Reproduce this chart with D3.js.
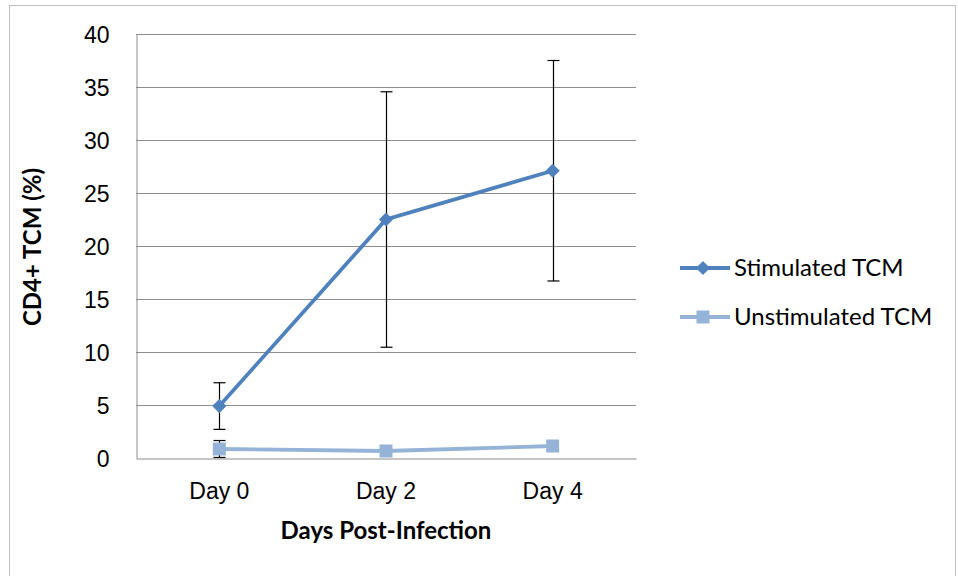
<!DOCTYPE html>
<html><head><meta charset="utf-8">
<script src="https://cdn.jsdelivr.net/npm/d3@7"></script>
<style>body{margin:0;background:#fff}svg{display:block;font-family:Lato,"Open Sans",sans-serif}</style>
</head><body><svg id="c" width="958" height="576"></svg>
<script>
const categories = ["Day 0", "Day 2", "Day 4"];
const stimulated = [4.9, 22.5, 27.1];
const stimulatedErr = [2.2, 12.05, 10.4];
const unstimulated = [0.85, 0.66, 1.13];
const unstimulatedErr = [0.8, 0, 0];
const yTicks = [0, 5, 10, 15, 20, 25, 30, 35, 40];
const seriesNames = ["Stimulated TCM", "Unstimulated TCM"];
const colors = ["#4F81BD", "#95B3D7"];

const svg = d3.select("#c");
svg.append("rect").attr("x", 9.5).attr("y", 5.5).attr("width", 946).attr("height", 580)
  .attr("fill", "none").attr("stroke", "#c0c0c0");

const m = {l: 136, r: 636, t: 34, b: 458};
const x = d3.scaleBand().domain(categories).range([m.l, m.r]);
const y = d3.scaleLinear().domain([0, 40]).range([m.b, m.t]);

// gridlines
svg.append("g").selectAll("line").data(yTicks.filter(t => t > 0)).join("line")
  .attr("x1", m.l).attr("x2", m.r).attr("y1", d => y(d) + 0.5).attr("y2", d => y(d) + 0.5)
  .attr("stroke", "#8c8c8c").attr("stroke-width", 1);

// axes
const ya = svg.append("g").attr("transform", `translate(${m.l + 0.5},0)`)
  .call(d3.axisLeft(y).tickValues(yTicks).tickSize(0).tickPadding(27));
ya.select(".domain").attr("stroke", "#8c8c8c");
ya.selectAll("text").attr("font-size", 23).attr("fill", "#000").attr("dy", "0.35em");

const xa = svg.append("g").attr("transform", `translate(0,${m.b + 0.5})`)
  .call(d3.axisBottom(x).tickSize(0).tickPadding(24));
xa.select(".domain").attr("stroke", "#8c8c8c");
xa.selectAll("text").attr("font-size", 23).attr("fill", "#000");

const cx = d => x(d) + x.bandwidth() / 2;

// error bars
function errBars(vals, errs) {
  const g = svg.append("g").attr("stroke", "#000").attr("stroke-width", 1.2);
  categories.forEach((c, i) => {
    if (!errs[i]) return;
    const px = Math.round(cx(c)) + 0.5;
    g.append("line").attr("x1", px).attr("x2", px).attr("y1", y(vals[i] + errs[i])).attr("y2", y(vals[i] - errs[i]));
    [vals[i] + errs[i], vals[i] - errs[i]].forEach(v => {
      g.append("line").attr("x1", px - 6).attr("x2", px + 6).attr("y1", y(v)).attr("y2", y(v));
    });
  });
}
errBars(stimulated, stimulatedErr);
errBars(unstimulated, unstimulatedErr);

const line = d3.line().x((d, i) => cx(categories[i])).y(d => y(d));
svg.append("path").datum(unstimulated).attr("d", line).attr("fill", "none")
  .attr("stroke", colors[1]).attr("stroke-width", 3.8);
svg.append("g").selectAll("rect").data(unstimulated).join("rect")
  .attr("x", (d, i) => cx(categories[i]) - 6.5).attr("y", d => y(d) - 6.5)
  .attr("width", 13).attr("height", 13).attr("fill", colors[1]);

svg.append("path").datum(stimulated).attr("d", line).attr("fill", "none")
  .attr("stroke", colors[0]).attr("stroke-width", 3.8);
svg.append("g").selectAll("path").data(stimulated).join("path")
  .attr("transform", (d, i) => `translate(${cx(categories[i])},${y(d)}) rotate(45)`)
  .attr("d", d3.symbol().type(d3.symbolSquare).size(100)).attr("fill", colors[0]);

// axis titles
svg.append("text").attr("x", (m.l + m.r) / 2).attr("y", 539).attr("text-anchor", "middle")
  .attr("font-size", 24).attr("font-weight", "bold").text("Days Post-Infection");
svg.append("text").attr("transform", "translate(41,247) rotate(-90)").attr("text-anchor", "middle")
  .attr("font-size", 24).attr("font-weight", "bold").text("CD4+ TCM (%)");

// legend
const leg = svg.append("g");
[268, 317].forEach((ly, i) => {
  leg.append("line").attr("x1", 680).attr("x2", 730).attr("y1", ly).attr("y2", ly)
    .attr("stroke", colors[i]).attr("stroke-width", 3.8);
  if (i === 0) {
    leg.append("path").attr("transform", `translate(703,${ly}) rotate(45)`)
      .attr("d", d3.symbol().type(d3.symbolSquare).size(100)).attr("fill", colors[0]);
  } else {
    leg.append("rect").attr("x", 696.5).attr("y", ly - 6.5).attr("width", 13).attr("height", 13).attr("fill", colors[1]);
  }
  leg.append("text").attr("x", 734).attr("y", ly).attr("dy", "0.35em").attr("font-size", 24)
    .text(seriesNames[i]);
});
</script></body></html>
